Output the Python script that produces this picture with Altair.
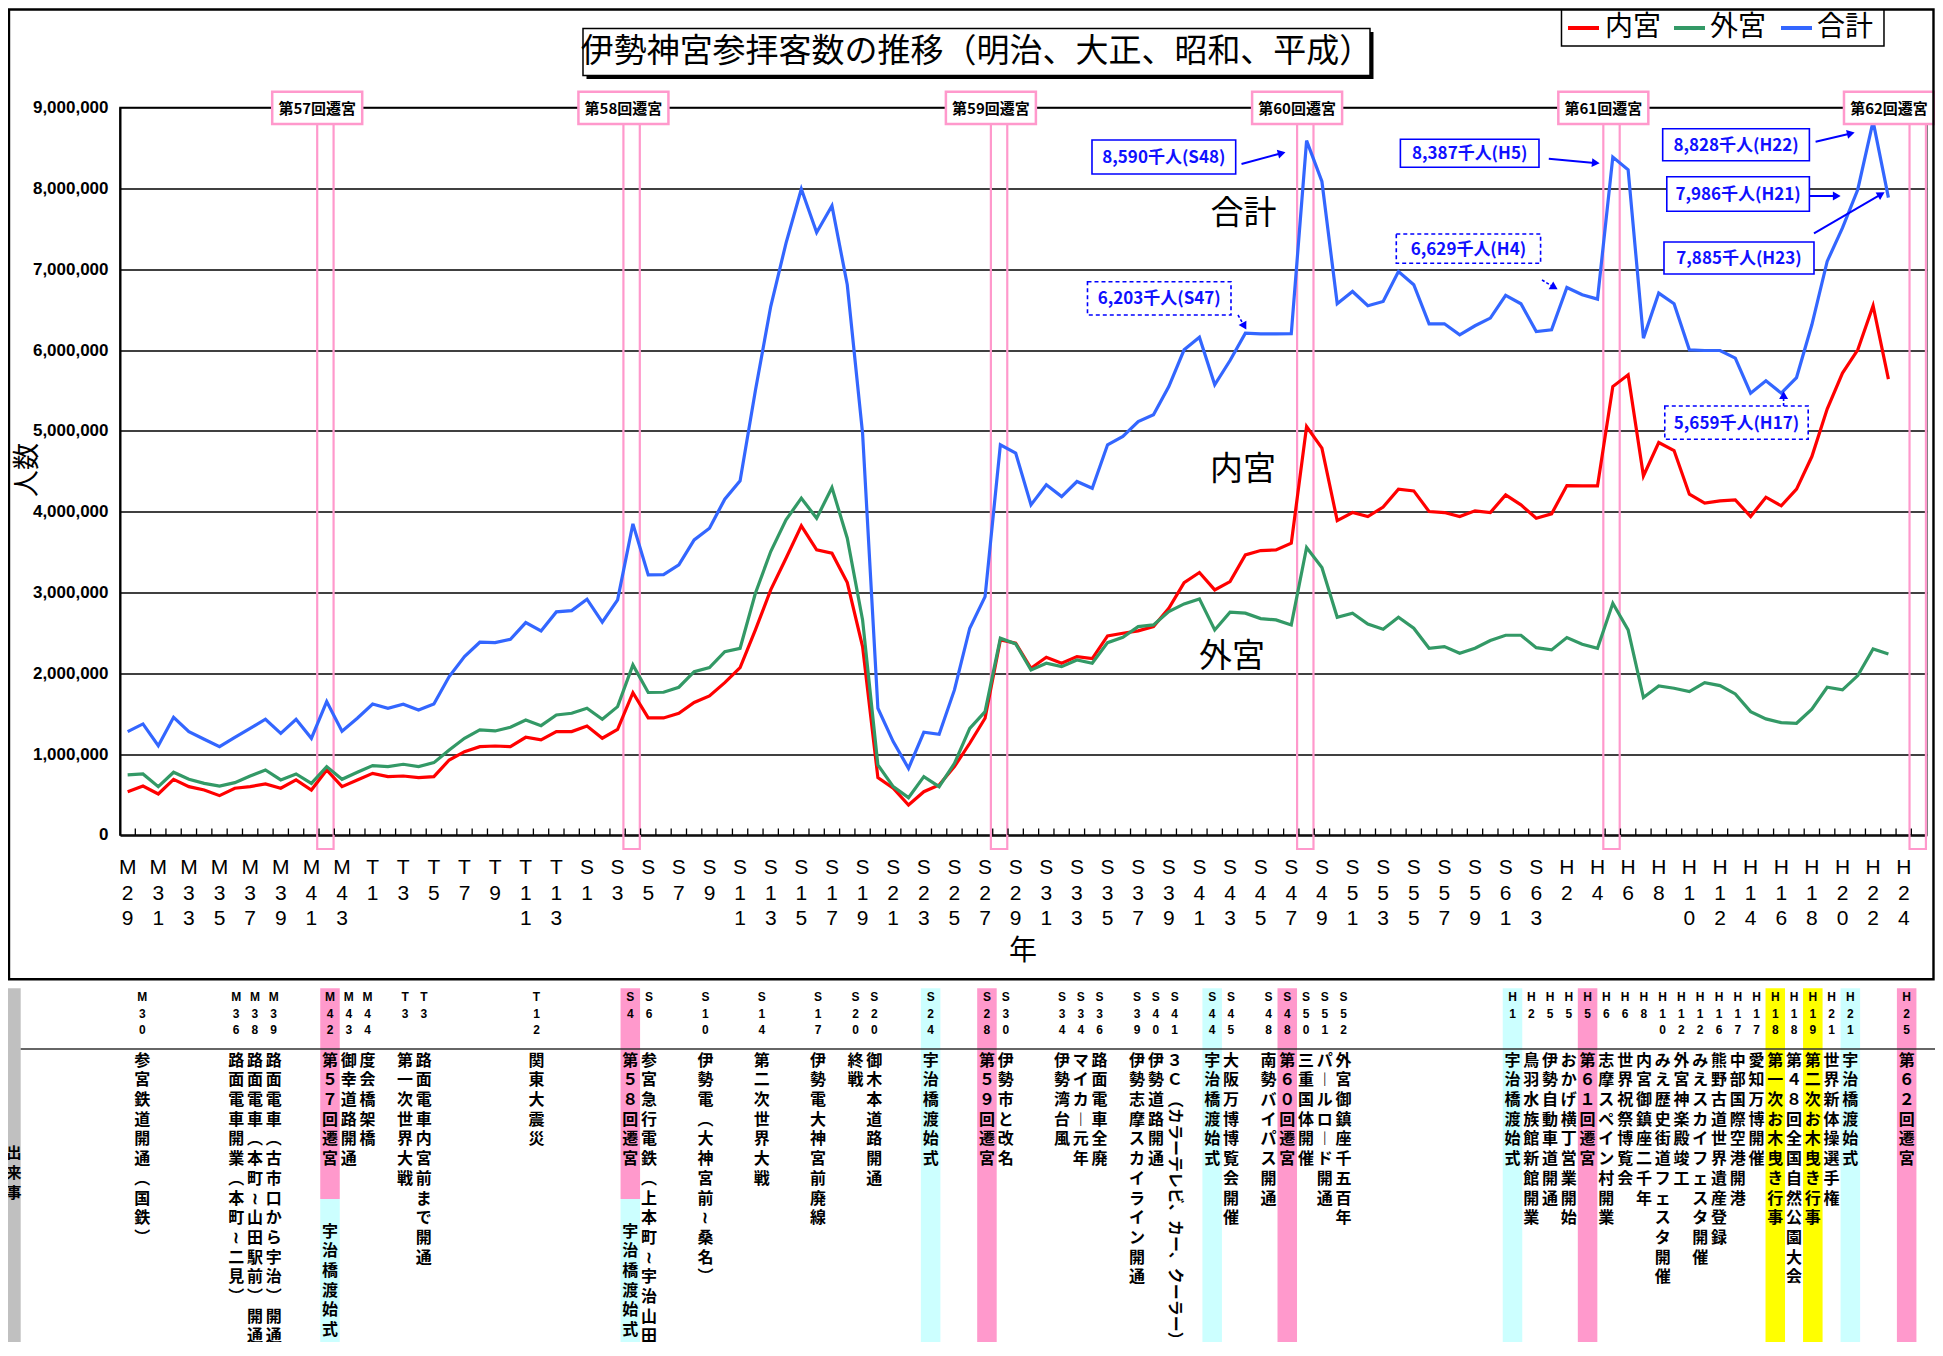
import math
import altair as alt
import pandas as pd

# ======================= DATA =======================
years = list(range(1896, 2012))          # M29 ... H23
series_names = ["内宮", "外宮", "合計"]

naiku_k = [536, 606, 507, 689, 598, 557, 487, 578, 598, 631,
           578, 681, 557, 804, 598, 681, 763, 722, 730, 709,
           722, 928, 1031, 1093, 1101, 1093, 1209, 1176, 1279, 1279,
           1349, 1197, 1308, 1761, 1448, 1448, 1506, 1640, 1720, 1885,
           2071, 2537, 3032, 3424, 3824, 3527, 3486, 3123, 2331, 709,
           578, 371, 536, 619, 846, 1135, 1444, 2413, 2372, 2063,
           2199, 2125, 2207, 2182, 2463, 2496, 2525, 2578, 2805, 3123,
           3247, 3032, 3135, 3465, 3519, 3527, 3610, 5053, 4786, 3890,
           3989, 3940, 4056, 4278, 4257, 4002, 3989, 3940, 4010, 3989,
           4208, 4084, 3919, 3973, 4323, 4319, 4319, 5548, 5693, 4443,
           4855, 4756, 4216, 4105, 4134, 4146, 3940, 4179, 4072, 4278,
           4682, 5270, 5714, 6002, 6547, 5640]

geku_k = [743, 755, 598, 776, 689, 639, 606, 648, 730, 804,
          681, 755, 639, 846, 689, 776, 858, 846, 875, 846,
          895, 1052, 1197, 1300, 1287, 1333, 1423, 1353, 1485, 1506,
          1568, 1432, 1588, 2104, 1763, 1766, 1828, 2021, 2071, 2269,
          2310, 2991, 3507, 3899, 4167, 3919, 4298, 3672, 2661, 866,
          598, 462, 722, 598, 887, 1320, 1526, 2434, 2364, 2042,
          2125, 2083, 2166, 2125, 2380, 2447, 2578, 2599, 2764, 2859,
          2921, 2537, 2756, 2744, 2677, 2661, 2599, 3556, 3308, 2694,
          2744, 2611, 2545, 2694, 2558, 2310, 2331, 2248, 2310, 2405,
          2471, 2471, 2318, 2290, 2442, 2360, 2310, 2867, 2537, 1700,
          1844, 1815, 1774, 1885, 1848, 1745, 1526, 1436, 1390, 1382,
          1556, 1828, 1795, 1972, 2302, 2240]

total_k = [1279, 1374, 1105, 1456, 1279, 1184, 1093, 1209, 1320, 1432,
           1258, 1432, 1196, 1650, 1285, 1444, 1621, 1568, 1617, 1547,
           1621, 1960, 2207, 2385, 2380, 2420, 2628, 2525, 2760, 2776,
           2917, 2632, 2908, 3849, 3218, 3222, 3342, 3651, 3796, 4155,
           4381, 5500, 6538, 7323, 7991, 7454, 7785, 6807, 4970, 1568,
           1155, 825, 1271, 1246, 1795, 2558, 2949, 4827, 4724, 4084,
           4332, 4187, 4373, 4290, 4827, 4930, 5115, 5198, 5548, 6002,
           6159, 5569, 5870, 6209, 6200, 6200, 6203, 8590, 8085, 6572,
           6724, 6547, 6600, 6972, 6807, 6324, 6324, 6188, 6300, 6395,
           6675, 6572, 6229, 6250, 6774, 6683, 6629, 8387, 8230, 6147,
           6704, 6572, 6002, 5994, 5994, 5899, 5466, 5619, 5466, 5659,
           6312, 7096, 7510, 7986, 8828, 7885]

tick_labels = ["M29", "M31", "M33", "M35", "M37", "M39", "M41", "M43", "T1", "T3",
               "T5", "T7", "T9", "T11", "T13", "S1", "S3", "S5", "S7", "S9",
               "S11", "S13", "S15", "S17", "S19", "S21", "S23", "S25", "S27", "S29",
               "S31", "S33", "S35", "S37", "S39", "S41", "S43", "S45", "S47", "S49",
               "S51", "S53", "S55", "S57", "S59", "S61", "S63", "H2", "H4", "H6",
               "H8", "H10", "H12", "H14", "H16", "H18", "H20", "H22", "H24"]
tick_years = list(range(1896, 2013, 2))
y_ticks = list(range(0, 9_000_001, 1_000_000))

sengu_years = [1909, 1929, 1953, 1973, 1993, 2013]
sengu_labels = ["第57回遷宮", "第58回遷宮", "第59回遷宮", "第60回遷宮", "第61回遷宮", "第62回遷宮"]

annot_texts = ["8,590千人(S48)", "6,203千人(S47)", "8,387千人(H5)", "6,629千人(H4)",
               "8,828千人(H22)", "7,986千人(H21)", "7,885千人(H23)", "5,659千人(H17)"]
annot_dashed = [False, True, False, True, False, False, False, True]

title_text = "伊勢神宮参拝客数の推移（明治、大正、昭和、平成）"

ev_year = ["M30", "M36", "M38", "M39", "M42", "", "M43", "M44", "T3", "T3",
           "T12", "S4", "", "S6", "S10", "S14", "S17", "S20", "S20", "S24",
           "S28", "S30", "S34", "S34", "S36", "S39", "S40", "S41", "S44", "S45",
           "S48", "S48", "S50", "S51", "S52", "H1", "H2", "H5", "H5", "H5",
           "H6", "H6", "H8", "H10", "H12", "H12", "H16", "H17", "H17", "H18",
           "H18", "H19", "H21", "H21", "H25"]
ev_text = ["参宮鉄道開通（国鉄）", "路面電車開業（本町～二見）", "路面電車（本町～山田駅前）開通",
           "路面電車（古市口から宇治）開通", "第５７回遷宮", "宇治橋渡始式", "御幸道路開通", "度会橋架橋",
           "第一次世界大戦", "路面電車内宮前まで開通",
           "関東大震災", "第５８回遷宮", "宇治橋渡始式", "参宮急行電鉄（上本町～宇治山田）",
           "伊勢電（大神宮前～桑名）", "第二次世界大戦", "伊勢電大神宮前廃線", "終戦", "御木本道路開通",
           "宇治橋渡始式",
           "第５９回遷宮", "伊勢市と改名", "伊勢湾台風", "マイカー元年", "路面電車全廃",
           "伊勢志摩スカイライン開通", "伊勢道路開通", "３Ｃ（カラーテレビ、カー、クーラー）", "宇治橋渡始式",
           "大阪万博博覧会開催",
           "南勢バイパス開通", "第６０回遷宮", "三重国体開催", "パールロード開通", "外宮御鎮座千五百年",
           "宇治橋渡始式", "鳥羽水族館　新館開業", "伊勢自動車道開通", "おかげ横丁営業開始", "第６１回遷宮",
           "志摩スペイン村開業", "世界祝祭博覧会", "内宮御鎮座二千年", "みえ歴史街道フェスタ開催",
           "外宮神楽殿竣工", "みえスカイフェスタ開催", "熊野古道世界遺産登録", "中部国際空港開港",
           "愛知万博開催", "第一次お木曳き行事",
           "第４８回全国自然公園大会", "第二次お木曳き行事", "世界新体操選手権", "宇治橋渡始式", "第６２回遷宮"]
ev_slot = [0, 5, 6, 7, 10, 10, 11, 12, 14, 15,
           21, 26, 26, 27, 30, 33, 36, 38, 39, 42,
           45, 46, 49, 50, 51, 53, 54, 55, 57, 58,
           60, 61, 62, 63, 64, 73, 74, 75, 76, 77,
           78, 79, 80, 81, 82, 83, 84, 85, 86, 87,
           88, 89, 90, 91, 94]
ev_row = [0, 0, 0, 0, 0, 1, 0, 0, 0, 0,
          0, 0, 1, 0, 0, 0, 0, 0, 0, 0,
          0, 0, 0, 0, 0, 0, 0, 0, 0, 0,
          0, 0, 0, 0, 0, 0, 0, 0, 0, 0,
          0, 0, 0, 0, 0, 0, 0, 0, 0, 0,
          0, 0, 0, 0, 0]
ev_kind = ["", "", "", "", "遷宮", "渡始式", "", "", "", "",
           "", "遷宮", "渡始式", "", "", "", "", "", "", "渡始式",
           "遷宮", "", "", "", "", "", "", "", "渡始式", "",
           "", "遷宮", "", "", "", "渡始式", "", "", "", "遷宮",
           "", "", "", "", "", "", "", "", "", "お木曳",
           "", "お木曳", "", "渡始式", "遷宮"]

# ======================= LAYOUT / STYLE =======================
PX0, PY0 = 120.0, 107.5            # page position of plot origin
PLOT_W, PLOT_H = 1806.7, 727.5
X_DOMAIN = [1895.5, 2013.5]
PXYR = PLOT_W / (X_DOMAIN[1] - X_DOMAIN[0])
SLOT_X0, SLOT_W = 142.3, 18.77      # event table columns (page px)
SLOT_DOMAIN = [(PX0 - SLOT_X0) / SLOT_W, (PX0 + PLOT_W - SLOT_X0) / SLOT_W]
ROTATED_TAIL = {"S41"}              # bracketed part typeset sideways
EV_PITCH = 19.7

RED, GREEN, BLUE = "#FF0000", "#339966", "#3366FF"
PINK_LINE, PINK_FILL, CYAN, YELLOW = "#FF99CC", "#FF99CC", "#CCFFFF", "#FFFF00"
ANN = "#1010FF"
JP = "Noto Sans CJK JP"
LAT = "Liberation Sans"


def cx(px):
    return px - PX0


def cy(py):
    return py - PY0


def PX(f):
    return alt.X(f"{f}:Q", scale=None, axis=None)


def PY(f):
    return alt.Y(f"{f}:Q", scale=None, axis=None)


def text_layer(rows, **kw):
    return alt.Chart(pd.DataFrame(rows)).mark_text(**kw).encode(
        x=PX("x"), y=PY("y"), text="t:N")


def rect_layer(rows, **kw):
    return alt.Chart(pd.DataFrame(rows)).mark_rect(**kw).encode(
        x=PX("x"), x2="x2:Q", y=PY("y"), y2="y2:Q")


def rule_layer(rows, **kw):
    return alt.Chart(pd.DataFrame(rows)).mark_rule(**kw).encode(
        x=PX("x"), x2="x2:Q", y=PY("y"), y2="y2:Q")


xs = alt.Scale(domain=X_DOMAIN, nice=False, zero=False)
ys = alt.Scale(domain=[0, 9_000_000], nice=False, zero=True)

# ---------------- data part ----------------
rows = []
for name, vals in zip(series_names, [naiku_k, geku_k, total_k]):
    for yr, v in zip(years, vals):
        rows.append({"year": yr, "value": v * 1000, "series": name})
df = pd.DataFrame(rows)

lines = alt.Chart(df).mark_line(strokeWidth=3.2).encode(
    x=alt.X("year:Q", scale=xs, axis=None),
    y=alt.Y("value:Q", scale=ys, axis=alt.Axis(
        values=y_ticks, format=",d", labelFont=LAT, labelFontSize=17, labelFontWeight="bold",
        labelColor="black", grid=True, gridColor="black", gridWidth=1.4, gridOpacity=1,
        ticks=False, domain=True, domainColor="black", domainWidth=2, labelPadding=12, title=None)),
    color=alt.Color("series:N", scale=alt.Scale(domain=series_names, range=[RED, GREEN, BLUE]),
                    legend=None),
)

sdf = pd.DataFrame({"year": sengu_years, "label": sengu_labels})
sdf["x0"] = sdf["year"] - 0.62
sdf["x1"] = sdf["year"] + 0.45
box_max = X_DOMAIN[0] + (1889 - PX0) / PXYR
sdf["bc"] = [min(v, box_max) for v in sdf["x0"]]
sdf["b0"] = sdf["bc"] - 45 / PXYR
sdf["b1"] = sdf["bc"] + 45 / PXYR

sengu_rect = alt.Chart(sdf).mark_rect(fillOpacity=0, stroke=PINK_LINE, strokeWidth=2.2).encode(
    x=alt.X("x0:Q", scale=xs, axis=None), x2="x1:Q",
    y=alt.value(cy(124)), y2=alt.value(cy(849)))
sengu_box = alt.Chart(sdf).mark_rect(fill="white", stroke=PINK_LINE, strokeWidth=2.5).encode(
    x=alt.X("b0:Q", scale=xs, axis=None), x2="b1:Q",
    y=alt.value(cy(91.7)), y2=alt.value(cy(124)))
sengu_txt = alt.Chart(sdf).mark_text(font=JP, fontSize=15, fontWeight="bold", color="black",
                                     baseline="middle").encode(
    x=alt.X("bc:Q", scale=xs, axis=None), y=alt.value(cy(108.5)), text="label:N")

tdf = pd.DataFrame({"b": [yr + 0.5 for yr in range(years[0], 2013)]})
xticks = alt.Chart(tdf).mark_rule(color="black", strokeWidth=1.3).encode(
    x=alt.X("b:Q", scale=xs, axis=None), y=alt.value(PLOT_H), y2=alt.value(PLOT_H - 6.5))

ldf = pd.DataFrame({"year": tick_years, "lab": ["\n".join(list(s)) for s in tick_labels]})
xlabels = alt.Chart(ldf).mark_text(font=LAT, fontSize=21, color="black", baseline="top",
                                   align="center", lineBreak="\n", lineHeight=25.3).encode(
    x=alt.X("year:Q", scale=xs, axis=None), y=alt.value(cy(857.5)), text="lab:N")

data_layer = alt.layer(sengu_rect, lines, xticks, xlabels, sengu_box, sengu_txt)

# ---------------- event table ----------------
ts = alt.Scale(domain=SLOT_DOMAIN, nice=False, zero=False)
TOP, SPLIT, BOTTOM = 988.3, 1199.0, 1360.0
lower_slots = {s for s, r in zip(ev_slot, ev_row) if r == 1}
hl_rows, yl_rows, ml_rows, rot_rows = [], [], [], []
VERT = {"（": "︵", "）": "︶", "～": "≀", "ー": "︱", "、": "︑"}

for yl, txt, slot, row, kind in zip(ev_year, ev_text, ev_slot, ev_row, ev_kind):
    if kind:
        if row == 0:
            y0, y1 = TOP, (SPLIT if slot in lower_slots else BOTTOM)
        else:
            y0, y1 = SPLIT, BOTTOM
        hl_rows.append({"s0": slot - 0.52, "s1": slot + 0.52, "y0": cy(y0), "y1": cy(y1), "kind": kind})
    if yl:
        yl_rows.append({"slot": slot, "lab": "\n".join(list(yl))})
    first_center = 1060.5 if row == 0 else 1231.5
    if yl in ROTATED_TAIL and "（" in txt:
        head, tail = txt.split("（", 1)
        tail = "（" + tail
    else:
        head, tail = txt, ""
    ml_rows.append({"slot": slot, "y": cy(first_center - 7.84),
                    "t": "\n".join(VERT.get(c, c) for c in head)})
    if tail:
        rot_rows.append({"slot": slot, "y": cy(first_center - EV_PITCH / 2 + len(head) * EV_PITCH + 2),
                         "t": tail})

hl = alt.Chart(pd.DataFrame(hl_rows)).mark_rect().encode(
    x=alt.X("s0:Q", scale=ts, axis=None), x2="s1:Q", y=PY("y0"), y2="y1:Q",
    color=alt.Color("kind:N", scale=alt.Scale(domain=["遷宮", "渡始式", "お木曳"],
                                              range=[PINK_FILL, CYAN, YELLOW]), legend=None))
ylab = alt.Chart(pd.DataFrame(yl_rows)).mark_text(
    font=LAT, fontSize=12, fontWeight="bold", color="black", baseline="top", align="center",
    lineBreak="\n", lineHeight=16.2).encode(
    x=alt.X("slot:Q", scale=ts, axis=None), y=alt.value(cy(992.4)), text="lab:N")
evtxt = alt.Chart(pd.DataFrame(ml_rows)).mark_text(
    font=JP, fontSize=16, fontWeight="bold", color="black", baseline="top", align="center",
    lineBreak="\n", lineHeight=EV_PITCH).encode(
    x=alt.X("slot:Q", scale=ts, axis=None), y=PY("y"), text="t:N")
evrot = alt.Chart(pd.DataFrame(rot_rows)).mark_text(
    font=JP, fontSize=16, fontWeight="bold", color="black", baseline="middle", align="left",
    angle=90).encode(
    x=alt.X("slot:Q", scale=ts, axis=None), y=PY("y"), text="t:N")
table_layer = alt.layer(hl, ylab, evtxt, evrot)

# ---------------- decorations ----------------
frame = rect_layer([{"x": cx(9), "x2": cx(1933.5), "y": cy(9.5), "y2": cy(979.3)}],
                   fillOpacity=0, stroke="black", strokeWidth=2.4)
gray_col = rect_layer([{"x": cx(0), "x2": cx(20.7), "y": cy(TOP), "y2": cy(BOTTOM)}], color="#C0C0C0")
dekigoto = text_layer([{"x": cx(14), "y": cy(1153), "t": "出\n来\n事"}], font=JP, fontSize=15,
                      fontWeight="bold", color="black", baseline="middle", lineBreak="\n", lineHeight=20)
table_line = rule_layer([{"x": cx(20.7), "x2": cx(1943), "y": cy(1049), "y2": cy(1049)}],
                        color="#333333", strokeWidth=1.5)

title_shadow = rect_layer([{"x": cx(586.5), "x2": cx(1373.5), "y": cy(32), "y2": cy(79)}], color="black")
title_box = rect_layer([{"x": cx(583), "x2": cx(1370), "y": cy(28.5), "y2": cy(75.5)}],
                       fill="white", stroke="black", strokeWidth=1.5)
title = text_layer([{"x": cx(976.5), "y": cy(52), "t": title_text}], font=JP, fontSize=33,
                   color="black", baseline="middle", align="center")

legend_box = rect_layer([{"x": cx(1561.5), "x2": cx(1884), "y": cy(10), "y2": cy(46)}],
                        fill="white", stroke="black", strokeWidth=1.5)
leg_lines = alt.Chart(pd.DataFrame([
    {"x": cx(1568), "x2": cx(1599), "y": cy(28), "y2": cy(28), "c": RED},
    {"x": cx(1674), "x2": cx(1705), "y": cy(28), "y2": cy(28), "c": GREEN},
    {"x": cx(1781), "x2": cx(1812), "y": cy(28), "y2": cy(28), "c": BLUE},
])).mark_rule(strokeWidth=4).encode(x=PX("x"), x2="x2:Q", y=PY("y"), y2="y2:Q",
                                     color=alt.Color("c:N", scale=None))
leg_text = text_layer([{"x": cx(1605), "y": cy(28), "t": series_names[0]},
                       {"x": cx(1710), "y": cy(28), "t": series_names[1]},
                       {"x": cx(1817), "y": cy(28), "t": series_names[2]}],
                      font=JP, fontSize=28, color="black", baseline="middle", align="left")

series_lab = text_layer([{"x": cx(1243.5), "y": cy(214), "t": "合計"},
                         {"x": cx(1243), "y": cy(470), "t": "内宮"},
                         {"x": cx(1232), "y": cy(657), "t": "外宮"}],
                        font=JP, fontSize=33, color="black", baseline="middle", align="center")
y_title = text_layer([{"x": cx(28), "y": cy(470), "t": "人数"}], font=JP, fontSize=27,
                     color="black", baseline="middle", align="center", angle=270)
x_title = text_layer([{"x": cx(1023), "y": cy(951.7), "t": "年"}], font=JP, fontSize=28,
                     color="black", baseline="middle", align="center")

# annotation boxes + arrows (page px)
annot_boxes = [(1092, 140, 1235.7, 174), (1087.5, 281.7, 1231, 315), (1400.4, 139.3, 1539, 167.3),
               (1396.3, 234, 1540.6, 263.3), (1662.7, 128.7, 1809.4, 160.7), (1666.8, 176.7, 1809.4, 211.3),
               (1664, 242, 1814, 274), (1664.8, 406, 1808.2, 439.3)]
annot_arrows = [((1241.5, 164), (1284.8, 152.3)), ((1238, 315), (1246, 329)), ((1548.8, 158.7), (1599, 163.3)),
                ((1542, 280), (1557, 289)), ((1815.6, 141.7), (1854, 132.7)), ((1809.4, 196), (1840, 196)),
                ((1814, 233.3), (1884, 192.7)), ((1783.6, 406), (1783.6, 392))]

box_s, box_d, a_txt, ar_s, ar_d, heads = [], [], [], [], [], []
for t, dsh, (x0, y0, x1, y1), ((ax, ay), (bx, by)) in zip(annot_texts, annot_dashed, annot_boxes, annot_arrows):
    r = {"x": cx(x0), "x2": cx(x1), "y": cy(y0), "y2": cy(y1)}
    (box_d if dsh else box_s).append(r)
    a_txt.append({"x": cx((x0 + x1) / 2), "y": cy((y0 + y1) / 2 + 1), "t": t})
    L = math.hypot(bx - ax, by - ay)
    ux, uy = (bx - ax) / L, (by - ay) / L
    hx, hy = bx - ux * 4.5, by - uy * 4.5
    (ar_d if dsh else ar_s).append({"x": cx(ax), "x2": cx(hx), "y": cy(ay), "y2": cy(hy)})
    heads.append({"x": cx(hx), "y": cy(hy), "a": math.degrees(math.atan2(ux, -uy)) % 360})

ann_box_s = rect_layer(box_s, fill="white", stroke="#0000FF", strokeWidth=1.6)
ann_box_d = rect_layer(box_d, fill="white", stroke="#0000FF", strokeWidth=1.6, strokeDash=[4, 3])
ann_txt = text_layer(a_txt, font=JP, fontSize=17, fontWeight="bold", color=ANN,
                     baseline="middle", align="center")
ann_ar_s = rule_layer(ar_s, color="#0000FF", strokeWidth=2)
ann_ar_d = rule_layer(ar_d, color="#0000FF", strokeWidth=1.6, strokeDash=[3, 2])
ann_heads = alt.Chart(pd.DataFrame(heads)).mark_point(
    shape="triangle", filled=True, size=80, color="#0000FF", opacity=1).encode(
    x=PX("x"), y=PY("y"), angle=alt.Angle("a:Q", scale=None))

deco = alt.layer(frame, gray_col, dekigoto, table_line, title_shadow, title_box, title,
                 legend_box, leg_lines, leg_text, series_lab, y_title, x_title,
                 ann_ar_s, ann_ar_d, ann_heads, ann_box_s, ann_box_d, ann_txt)

chart = alt.layer(data_layer, table_layer, deco).resolve_scale(
    x="independent", y="independent", color="independent", angle="independent"
).properties(
    width=PLOT_W, height=PLOT_H,
    padding={"left": 112, "top": 99.5, "right": 8, "bottom": 507},
    autosize=alt.AutoSizeParams(type="none"),
    background="white",
).configure_view(stroke="black", strokeWidth=1.6)

chart.save("out.html", embed_options={"renderer": "svg", "actions": False})
